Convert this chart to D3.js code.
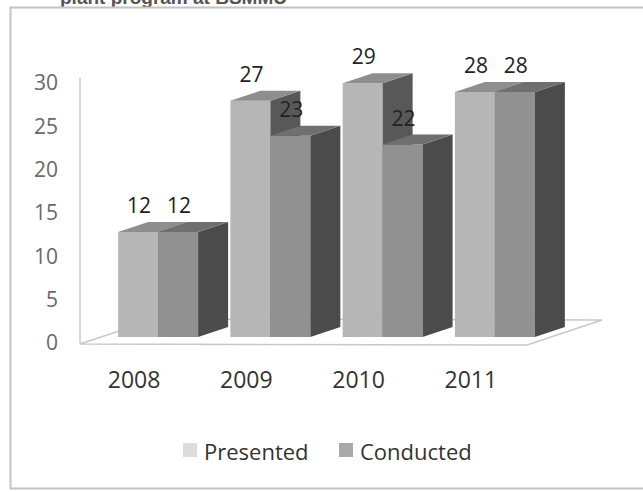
<!DOCTYPE html>
<html>
<head>
<meta charset="utf-8">
<script src="https://cdn.jsdelivr.net/npm/d3@7"></script>
<style>
  body { margin: 0; background: #fff; }
  text { font-family: "Open Sans", sans-serif; }
</style>
</head>
<body>
<div id="chart"></div>
<script>
// data
const years = ["2008", "2009", "2010", "2011"];
const series = ["Presented", "Conducted"];
const presented = [12, 27, 29, 28];
const conducted = [12, 23, 22, 28];
const yTicks = [0, 5, 10, 15, 20, 25, 30];

const width = 643, height = 492;
const depthX = 30, depthY = 10;   // bar depth offset

// face colours per series: front, top, side
const faces = {
  Presented: { front: "#b6b6b6", top: "#8e8e8e", side: "#585858", swatch: "#dcdcdc" },
  Conducted: { front: "#919191", top: "#6f6f6f", side: "#4b4b4b", swatch: "#a9a9a9" }
};

const svg = d3.select("#chart")
  .append("svg")
  .attr("width", width)
  .attr("height", height)
  .attr("viewBox", [0, 0, width, height]);

// cut-off title line above the frame
svg.append("text")
  .attr("x", 60)
  .attr("y", 4)
  .attr("font-family", "Liberation Sans, Arial, sans-serif")
  .style("font-family", "'Liberation Sans', Arial, sans-serif")
  .attr("font-size", 19)
  .attr("font-weight", "bold")
  .attr("fill", "#555")
  .text("plant program at  BSMMU");

// chart frame
svg.append("rect")
  .attr("x", 10.5).attr("y", 7.5)
  .attr("width", 640).attr("height", 481)
  .attr("fill", "#fff")
  .attr("stroke", "#c4c4c4")
  .attr("stroke-width", 2);

// scales
const x0 = d3.scaleBand()
  .domain(years)
  .range([102, 551])
  .paddingInner(0.2877)
  .paddingOuter(0.1438);

const x1 = d3.scaleBand()
  .domain(series)
  .range([0, x0.bandwidth()]);

const y = d3.scaleLinear()
  .domain([0, 30])
  .range([337, 74.5]);

// scale used by the wall labels (sits a little in front of the bars)
const yWall = d3.scaleLinear()
  .domain([0, 30])
  .range([343, 83]);

// back wall line and floor
svg.append("line")
  .attr("x1", 80).attr("x2", 80)
  .attr("y1", yWall(30) - 5).attr("y2", yWall(0))
  .attr("stroke", "#c8c8c8").attr("stroke-width", 1.5);

const floorFront = yWall(0) + 1;
svg.append("path")
  .attr("d", `M80,${floorFront} L527,${floorFront + 1} L602,${floorFront - 24} L155,${floorFront - 25} Z`)
  .attr("fill", "none")
  .attr("stroke", "#c8c8c8")
  .attr("stroke-width", 1.5);

// y labels
svg.append("g")
  .attr("transform", "translate(58,0)")
  .call(d3.axisLeft(yWall).tickValues(yTicks).tickSize(0).tickPadding(0))
  .call(g => g.select(".domain").remove())
  .selectAll("text")
    .attr("font-family", "Open Sans, sans-serif")
    .attr("font-size", 21)
    .attr("fill", "#6a6a6a");

// rows for drawing
const rows = [];
years.forEach((yr, i) => {
  rows.push({ year: yr, s: "Presented", v: presented[i] });
  rows.push({ year: yr, s: "Conducted", v: conducted[i] });
});

const bw = x1.bandwidth();
const bars = svg.append("g");

rows.forEach(d => {
  const xl = x0(d.year) + x1(d.s);
  const xr = xl + bw;
  const top = y(d.v), base = y(0);
  const c = faces[d.s];
  const g = bars.append("g");
  // front
  g.append("rect")
    .attr("x", xl).attr("y", top)
    .attr("width", bw).attr("height", base - top)
    .attr("fill", c.front);
  // side
  g.append("path")
    .attr("d", `M${xr},${top} L${xr + depthX},${top - depthY} L${xr + depthX},${base - depthY} L${xr},${base} Z`)
    .attr("fill", c.side);
  // top
  g.append("path")
    .attr("d", `M${xl},${top} L${xl + depthX},${top - depthY} L${xr + depthX},${top - depthY} L${xr},${top} Z`)
    .attr("fill", c.top);
});

// value labels
svg.append("g")
  .selectAll("text")
  .data(rows)
  .join("text")
    .attr("x", d => x0(d.year) + x1(d.s) + bw / 2 + 1)
    .attr("y", d => y(d.v) - 19)
    .attr("text-anchor", "middle")
    .attr("font-size", 21)
    .attr("fill", "#222")
    .text(d => d.v);

// category labels (in front of the floor, shifted left by perspective)
svg.append("g")
  .selectAll("text")
  .data(years)
  .join("text")
    .attr("x", d => x0(d) + x0.bandwidth() / 2 - 24)
    .attr("y", 388)
    .attr("text-anchor", "middle")
    .attr("font-size", 23)
    .attr("fill", "#333")
    .text(d => d);

// legend
const legend = svg.append("g");
const legX = [183, 339];
series.forEach((s, i) => {
  legend.append("rect")
    .attr("x", legX[i]).attr("y", 443)
    .attr("width", 14).attr("height", 14)
    .attr("fill", faces[s].swatch);
  legend.append("text")
    .attr("x", legX[i] + 21)
    .attr("y", 460)
    .attr("font-size", 22)
    .attr("fill", "#333")
    .text(s);
});
</script>
</body>
</html>
